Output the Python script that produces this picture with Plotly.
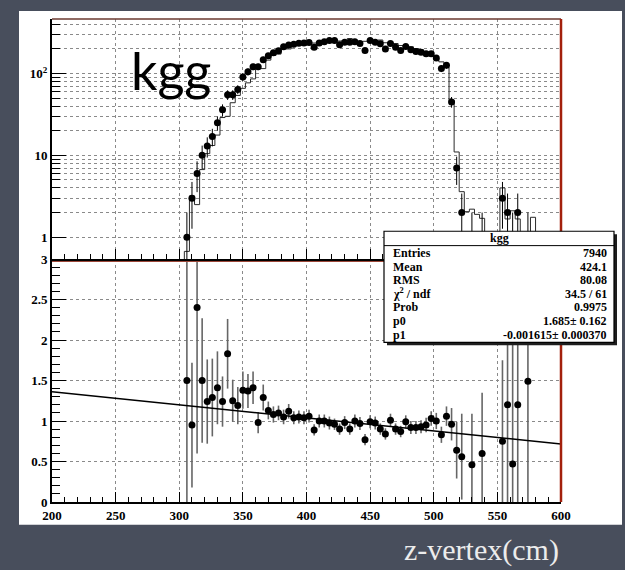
import numpy as np
import plotly.graph_objects as go

# ---- z-vertex histogram, 4 cm bins from 200 to 600 cm ----
bin_width = 4
z_min, z_max = 200, 600

# measured counts (points with Poisson errors)
data_z = [306, 310, 314, 318, 322, 326, 330, 334, 338, 342, 346, 350, 354, 358,
          362, 366, 370, 374, 378, 382, 386, 390, 394, 398, 402, 406, 410, 414,
          418, 422, 426, 430, 434, 438, 442, 446, 450, 454, 458, 462, 466, 470,
          474, 478, 482, 486, 490, 494, 498, 502, 506, 510, 514, 518, 522,
          530, 538, 554, 558, 562, 566, 574]
data_counts = [1, 3, 6, 10, 13, 17, 25, 36, 55, 55, 64, 91, 105, 121,
               121, 148, 165, 180, 190, 213, 224, 229, 234, 236, 240, 210, 236, 245,
               253, 253, 225, 241, 241, 245, 233, 191, 253, 241, 231, 200, 233, 210,
               191, 214, 196, 186, 182, 175, 175, 155, 115, 126, 45, 7, 2,
               1, 1, 3, 2, 1, 2, 1]

# reference histogram (step line)
ref_z = [306, 310, 314, 318, 322, 326, 330, 334, 338, 342, 346, 350, 354, 358,
         362, 366, 370, 374, 378, 382, 386, 390, 394, 398, 402, 406, 410, 414,
         418, 422, 426, 430, 434, 438, 442, 446, 450, 454, 458, 462, 466, 470,
         474, 478, 482, 486, 490, 494, 498, 502, 506, 510, 514, 518, 522, 526,
         530, 534, 538, 542, 546, 550, 554, 558, 562, 566, 570, 574, 578]
ref_content = [0.67, 3.2, 2.5, 6.7, 10.5, 13.2, 17.7, 29, 30, 44, 54, 66, 77, 86,
               123, 115, 146, 167, 173, 203, 200, 220, 223, 227, 226, 236, 236, 245,
               259, 264, 250, 246, 268, 245, 240, 248, 256, 247, 257, 238, 231, 233,
               220, 216, 213, 202, 196, 184, 170, 155, 139, 119, 47, 11, 3.6, 2.05,
               2.2, 1.9, 1.7, 0.5, 0.4, 0.6, 4.0, 1.67, 2.1, 1.67, 0.5, 0.67, 1.75]

# data / reference ratio with its errors
ratio_z = [306, 310, 314, 318, 322, 326, 330, 334, 338, 342, 346, 350, 354, 358,
           362, 366, 370, 374, 378, 382, 386, 390, 394, 398, 402, 406, 410, 414,
           418, 422, 426, 430, 434, 438, 442, 446, 450, 454, 458, 462, 466, 470,
           474, 478, 482, 486, 490, 494, 498, 502, 506, 510, 514, 518, 522,
           530, 538, 554, 558, 562, 566, 574]
ratio_val = [1.50, 0.95, 2.40, 1.50, 1.24, 1.29, 1.41, 1.24, 1.83, 1.25, 1.19, 1.38, 1.37, 1.41,
             0.98, 1.29, 1.13, 1.08, 1.10, 1.05, 1.12, 1.04, 1.05, 1.04, 1.06, 0.89, 1.00, 1.00,
             0.975, 0.96, 0.90, 0.98, 0.90, 1.00, 0.97, 0.77, 0.99, 0.975, 0.90, 0.84, 1.01, 0.90,
             0.87, 0.99, 0.92, 0.92, 0.93, 0.95, 1.03, 1.00, 0.83, 1.06, 0.96, 0.64, 0.56,
             0.46, 0.60, 0.75, 1.20, 0.47, 1.20, 1.49]
ratio_err = [1.50, 0.77, 1.80, 0.77, 0.52, 0.48, 0.45, 0.31, 0.43, 0.26, 0.23, 0.23, 0.21, 0.20,
             0.13, 0.16, 0.11, 0.10, 0.09, 0.09, 0.09, 0.08, 0.08, 0.08, 0.08, 0.07, 0.08, 0.08,
             0.08, 0.07, 0.07, 0.08, 0.07, 0.08, 0.08, 0.07, 0.08, 0.08, 0.07, 0.07, 0.08, 0.07,
             0.07, 0.08, 0.08, 0.08, 0.08, 0.09, 0.09, 0.10, 0.10, 0.12, 0.20, 0.35, 0.53,
             0.63, 0.75, 1.00, 2.00, 2.50, 2.00, 2.00]

# linear fit of the ratio: p0 + p1*z
p0, p1 = 1.685, -0.001615

stats_rows = [("Entries", "7940"), ("Mean", "424.1"), ("RMS", "80.08"),
              ("χ<sup>2</sup> / ndf", "34.5 / 61"), ("Prob", "0.9975"),
              ("p0", "1.685± 0.162"), ("p1", "-0.001615± 0.000370")]

# ---- page geometry (pixels) ----
W, H = 625, 570
L, R, T, B = 52, 561, 15, 502     # frame
D = 257                           # panel divider


def fx(p):
    return (p - L) / (R - L)


def fy(p):
    return (B - p) / (B - T)


split = fy(D)

edges = np.arange(z_min, z_max + bin_width, bin_width)
ref_full = np.zeros(len(edges) - 1)
for z, c in zip(ref_z, ref_content):
    ref_full[int((z - z_min) // bin_width)] = c
step_y = np.append(ref_full, ref_full[-1])
step_y = np.where(step_y > 0, step_y, 1e-3)   # empty bins drop below the log axis

counts = np.array(data_counts, dtype=float)

fig = go.Figure()

fig.add_trace(go.Scatter(
    x=edges, y=step_y, mode="lines", line=dict(color="#2a2a2a", width=1, shape="hv"),
    xaxis="x2", yaxis="y2", hoverinfo="skip"))

fig.add_trace(go.Scatter(
    x=data_z, y=counts, mode="markers",
    marker=dict(symbol="circle", size=7, color="black"),
    error_y=dict(type="data", array=np.sqrt(counts), color="black", thickness=1, width=0),
    xaxis="x2", yaxis="y2"))

fig.add_trace(go.Scatter(
    x=ratio_z, y=ratio_val, mode="markers",
    marker=dict(symbol="circle", size=7, color="black"),
    error_y=dict(type="data", array=ratio_err, color="#666666", thickness=1.6, width=0),
    xaxis="x", yaxis="y"))

fit_x = np.array([z_min, z_max])
fig.add_trace(go.Scatter(
    x=fit_x, y=p0 + p1 * fit_x, mode="lines", line=dict(color="black", width=1.5),
    xaxis="x", yaxis="y"))

tick_font = dict(family="Liberation Serif", size=13, color="black", weight="bold")
grid = dict(showgrid=True, gridcolor="#8a8a8a", griddash="dot", gridwidth=1)

x_common = dict(range=[z_min, z_max], tickvals=list(range(200, 601, 50)),
                ticks="inside", ticklen=10, tickwidth=1, tickcolor="black",
                minor=dict(dtick=10, ticks="inside", ticklen=5, tickcolor="black"),
                zeroline=False, showline=True, linecolor="black", **grid)

log_minor = [m * d for d in (1, 10, 100) for m in range(2, 10) if m * d < 470]

fig.update_layout(
    width=W, height=H,
    margin=dict(l=L, r=W - R, t=T, b=H - B, pad=0),
    paper_bgcolor="#484e5c", plot_bgcolor="white",
    showlegend=False,
    xaxis=dict(domain=[0, 1], anchor="y", linewidth=2, tickfont=tick_font, **x_common),
    xaxis2=dict(domain=[0, 1], anchor="y2", matches="x", showticklabels=False,
                linewidth=3, **x_common),
    yaxis=dict(domain=[0, split], range=[0, 3], tickvals=[0, 0.5, 1, 1.5, 2, 2.5, 3],
               ticktext=["0", "0.5", "1", "1.5", "2", "2.5", "3"],
               ticks="inside", ticklen=14, tickcolor="black",
               minor=dict(dtick=0.1, ticks="inside", ticklen=8, tickcolor="black"),
               showline=True, linecolor="black", linewidth=2, zeroline=False,
               tickfont=tick_font, **grid),
    yaxis2=dict(domain=[split, 1], type="log", range=[-0.267, 2.667],
                tickvals=[1, 10, 100], ticktext=["1", "10", "10<sup>2</sup>"],
                ticks="inside", ticklen=14, tickcolor="black",
                minor=dict(tickvals=log_minor, ticks="inside", ticklen=8, tickcolor="black",
                           showgrid=True, gridcolor="#8a8a8a", griddash="dot"),
                showline=True, linecolor="black", linewidth=2, zeroline=False,
                tickfont=tick_font, **grid),
)

shapes = [
    # white canvas behind the frame
    dict(type="rect", xref="paper", yref="paper", x0=fx(19), x1=fx(622), y0=fy(525), y1=fy(7),
         fillcolor="white", line=dict(width=0), layer="below"),
    # frame top and right edges
    dict(type="line", xref="paper", yref="paper", x0=0, x1=1, y0=1, y1=1,
         line=dict(color="#6b3a30", width=1.5)),
    dict(type="line", xref="paper", yref="paper", x0=1, x1=1, y0=0, y1=1,
         line=dict(color="#a3200c", width=2.5)),
    # thin red edge under the divider
    dict(type="line", xref="paper", yref="paper", x0=0, x1=1, y0=fy(D + 2.5), y1=fy(D + 2.5),
         line=dict(color="#c85a48", width=0.8)),
]

# statistics box
bx0, bx1, by0, by1 = 384, 614, 229, 341
shapes += [
    dict(type="rect", xref="paper", yref="paper", x0=fx(bx0 + 3), x1=fx(bx1 + 3),
         y0=fy(by1 + 3), y1=fy(by0 + 3), fillcolor="#1e1e1e", line=dict(width=0)),
    dict(type="rect", xref="paper", yref="paper", x0=fx(bx0), x1=fx(bx1),
         y0=fy(by1), y1=fy(by0), fillcolor="white", line=dict(color="black", width=1.2)),
    dict(type="line", xref="paper", yref="paper", x0=fx(bx0), x1=fx(bx1),
         y0=fy(243.5), y1=fy(243.5), line=dict(color="black", width=1)),
]
fig.update_layout(shapes=shapes)

stat_font = dict(family="Liberation Serif", size=12, color="black", weight="bold")
ann = [dict(x=fx((bx0 + bx1) / 2), y=fy(236), text="kgg", font=stat_font,
            xanchor="center", yanchor="middle")]
row_y = [251, 264.7, 278.4, 292.1, 305.8, 319.5, 333.2]
for (lab, val), yy in zip(stats_rows, row_y):
    ann.append(dict(x=fx(391), y=fy(yy), text=lab, font=stat_font,
                    xanchor="left", yanchor="middle"))
    ann.append(dict(x=fx(609), y=fy(yy), text=val, font=stat_font,
                    xanchor="right", yanchor="middle"))

ann.append(dict(x=fx(171), y=fy(66), text="kgg",
                font=dict(family="Lato", size=52, color="black"),
                xanchor="center", yanchor="middle"))
ann.append(dict(x=fx(481), y=fy(550), text="z-vertex(cm)",
                font=dict(family="Liberation Serif", size=30, color="#ececec"),
                xanchor="center", yanchor="middle"))
for a in ann:
    a.update(xref="paper", yref="paper", showarrow=False)
fig.update_layout(annotations=ann)

fig.write_html("out.html")
